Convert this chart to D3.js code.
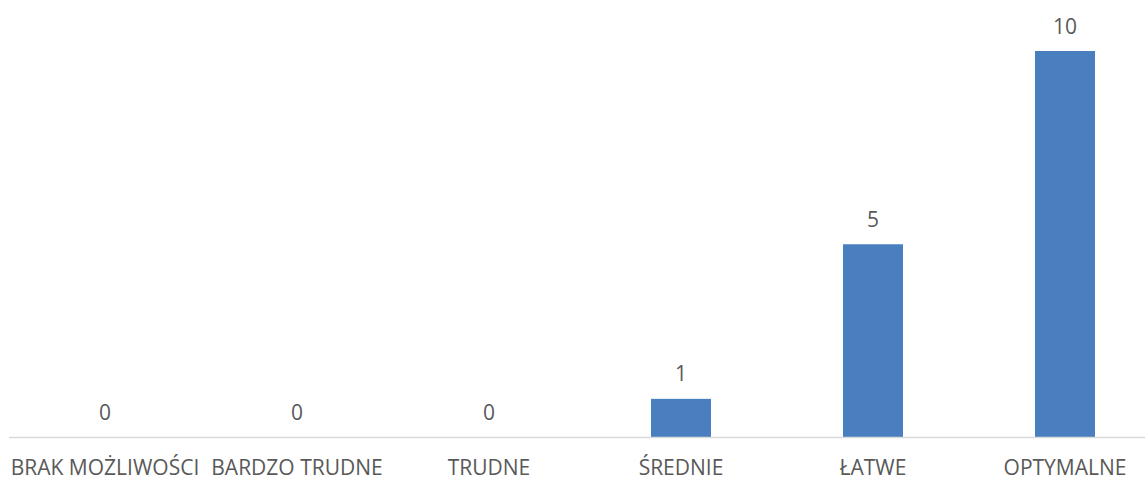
<!DOCTYPE html>
<html>
<head>
<meta charset="utf-8">
<script src="https://cdn.jsdelivr.net/npm/d3@7"></script>
<style>
  html, body { margin: 0; padding: 0; background: #fff; }
  svg { display: block; font-family: "Open Sans", "Noto Sans", sans-serif; }
</style>
</head>
<body>
<svg id="chart" width="1145" height="477"></svg>
<script>
const categories = ["BRAK MOŻLIWOŚCI", "BARDZO TRUDNE", "TRUDNE", "ŚREDNIE", "ŁATWE", "OPTYMALNE"];
const values = [0, 0, 0, 1, 5, 10];

const svg = d3.select("#chart");
const baseY = 437.5;

const x = d3.scaleBand()
  .domain(categories)
  .range([9, 1161])
  .paddingInner(0.6875)
  .paddingOuter(0.34375);

const y = d3.scaleLinear()
  .domain([0, 10])
  .range([baseY, 51]);

// bars
svg.append("g")
  .selectAll("rect")
  .data(values)
  .join("rect")
  .attr("x", (d, i) => x(categories[i]))
  .attr("y", d => y(d))
  .attr("width", x.bandwidth())
  .attr("height", d => baseY - y(d))
  .attr("fill", "#4a7fbf");

// category axis
const axis = svg.append("g")
  .attr("transform", `translate(0,${baseY})`)
  .call(d3.axisBottom(x).tickSize(0).tickPadding(0));
axis.select(".domain").remove();
axis.append("line")
  .attr("x1", 9).attr("x2", 1145)
  .attr("y1", 0).attr("y2", 0)
  .attr("stroke", "#d9d9d9")
  .attr("stroke-width", 1.5);
axis.selectAll(".tick text")
  .attr("y", 37)
  .attr("dy", 0)
  .attr("fill", "#595959")
  .style("font-size", "21px")
  .style("font-family", "'Open Sans', sans-serif");

// value labels
svg.append("g")
  .selectAll("text")
  .data(values)
  .join("text")
  .attr("x", (d, i) => x(categories[i]) + x.bandwidth() / 2)
  .attr("y", d => y(d) - 17.5)
  .attr("text-anchor", "middle")
  .attr("fill", "#595959")
  .style("font-size", "21px")
  .text(d => d);
</script>
</body>
</html>
